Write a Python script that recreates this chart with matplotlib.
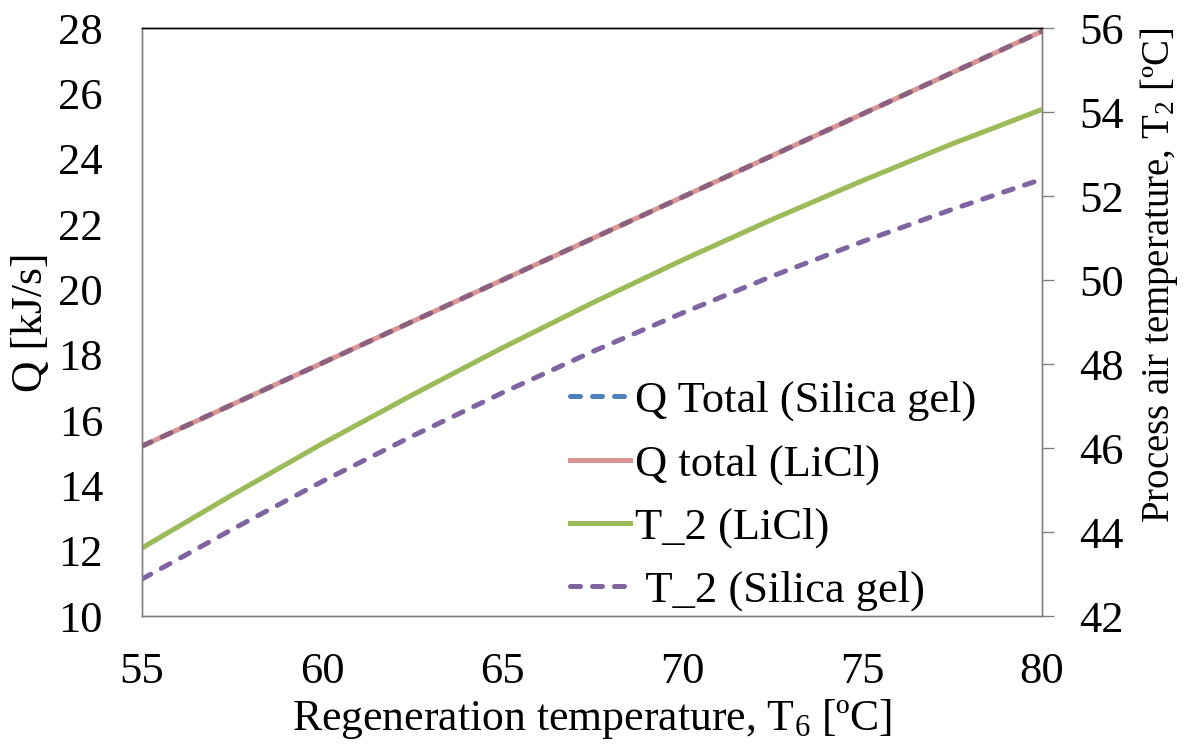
import matplotlib
matplotlib.use("Agg")
import matplotlib.pyplot as plt
from matplotlib.lines import Line2D

plt.rcParams['font.family'] = ['Liberation Serif', 'DejaVu Serif']
plt.rcParams['mathtext.fontset'] = 'custom'
plt.rcParams['mathtext.rm'] = 'Liberation Serif'
plt.rcParams['mathtext.it'] = 'Liberation Serif'

# Regeneration temperature T6 [ºC]
t_regen = [55, 57.5, 60, 62.5, 65, 67.5, 70, 72.5, 75, 77.5, 80]
# Total heat Q [kJ/s]
q_total_silica = [15.2, 16.47, 17.74, 19.01, 20.28, 21.55, 22.82, 24.09, 25.36, 26.63, 27.9]
q_total_licl = [15.2, 16.47, 17.74, 19.01, 20.28, 21.55, 22.82, 24.09, 25.36, 26.63, 27.9]
# Process air outlet temperature T2 [ºC]
t2_licl = [43.62, 44.88, 46.10, 47.26, 48.38, 49.45, 50.47, 51.44, 52.36, 53.24, 54.06]
t2_silica = [42.88, 44.06, 45.20, 46.28, 47.31, 48.29, 49.21, 50.09, 50.91, 51.68, 52.40]

labels = ["Q Total (Silica gel)", "Q total (LiCl)", "T_2 (LiCl)", " T_2 (Silica gel)"]
x_ticks = [55, 60, 65, 70, 75, 80]
q_ticks = list(range(10, 29, 2))
t_ticks = list(range(42, 57, 2))

c_blue = '#4F81BD'
c_pink = '#D99694'
c_mauve = '#8C617F'
c_green = '#9BBB59'
c_purple = '#8064A2'
grey = '#808080'

fig = plt.figure(figsize=(11.85, 7.49), dpi=100)
ax = fig.add_axes([142 / 1185, 1 - 616 / 749, 900 / 1185, 588 / 749])
ax2 = ax.twinx()

lw = 3.6
dash = (2.0, 2.4)
ax.plot(t_regen, q_total_licl, color=c_pink, lw=lw, solid_capstyle='butt', zorder=3)
ax.plot(t_regen, q_total_silica, color=c_mauve, lw=lw, dashes=dash,
        dash_capstyle='round', zorder=4)
ax2.plot(t_regen, t2_licl, color=c_green, lw=lw, solid_capstyle='butt')
ax2.plot(t_regen, t2_silica, color=c_purple, lw=lw, dashes=dash, dash_capstyle='round')

ax.set_xlim(55, 80)
ax.set_ylim(10, 28)
ax2.set_ylim(42, 56)
ax.set_xticks(x_ticks)
ax.set_yticks(q_ticks)
ax2.set_yticks(t_ticks)

ax.tick_params(axis='x', length=0, pad=26, labelsize=32)
ax.tick_params(axis='y', length=0, pad=28, labelsize=32)
ax2.tick_params(axis='y', length=8.6, width=1, color=grey, pad=18, labelsize=32, direction='out')

for s in ['left', 'bottom', 'right']:
    ax.spines[s].set_color(grey)
    ax2.spines[s].set_color(grey)
ax.spines['top'].set_color('black')
ax2.spines['top'].set_color('black')
for a in (ax, ax2):
    for s in a.spines.values():
        s.set_linewidth(1.0)

ax.set_xlabel(r"Regeneration temperature, T$_{6}$ [ºC]", fontsize=31.5)
ax.xaxis.set_label_coords(0.5, -0.138)
ax.set_ylabel("Q [kJ/s]", fontsize=31.5)
ax.yaxis.set_label_coords(-0.101, 0.5)
ax2.set_ylabel(r"Process air temperature, T$_{2}$ [ºC]", fontsize=28)
ax2.yaxis.set_label_coords(1.1067, 0.58)

handles = [
    Line2D([], [], color=c_blue, lw=lw, dashes=dash, dash_capstyle='round'),
    Line2D([], [], color=c_pink, lw=lw),
    Line2D([], [], color=c_green, lw=lw),
    Line2D([], [], color=c_purple, lw=lw, dashes=dash, dash_capstyle='round'),
]
ax2.legend(handles, labels, loc='upper left', bbox_to_anchor=(0.4756, 0.40),
           frameon=False, fontsize=32, handlelength=1.35, handletextpad=0.11,
           labelspacing=0.51, borderpad=0, borderaxespad=0)

fig.savefig("out.png", dpi=100)
